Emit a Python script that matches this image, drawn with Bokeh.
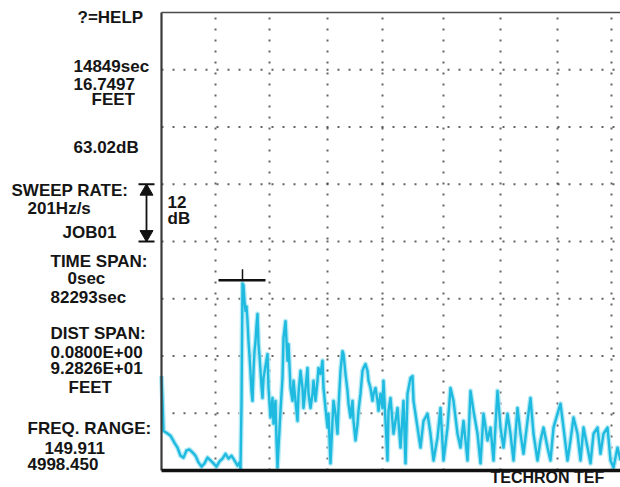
from bokeh.plotting import figure
from bokeh.models import Range1d
from bokeh.core.properties import value
from bokeh.embed import file_html
from bokeh.resources import INLINE

# ---- ETC trace (x: sample index, y: level in dB above the bottom line)
sample = [
    0, 1, 2, 5, 9, 13, 16, 19, 22, 25,
    28, 31, 34, 37, 40, 43, 46, 49, 52, 55,
    58, 61, 64, 67, 70, 73, 76, 78, 79, 80,
    81, 82, 83, 84, 85, 86, 87, 88, 89, 90,
    91, 92, 93, 94, 95, 96, 97, 98, 99, 100,
    101, 102, 104, 106, 107, 109, 111, 112, 114, 115,
    116, 117, 119, 121, 122, 124, 126, 127, 129, 131,
    132, 134, 136, 137, 139, 141, 142, 144, 146, 147,
    149, 151, 152, 154, 156, 157, 159, 161, 162, 164,
    166, 167, 169, 171, 172, 174, 176, 177, 179, 181,
    182, 184, 186, 187, 189, 191, 192, 194, 196, 197,
    199, 201, 202, 204, 206, 207, 209, 211, 212, 214,
    216, 217, 219, 221, 222, 224, 226, 227, 229, 232,
    236, 239, 242, 244, 246, 249, 251, 252, 256, 259,
    262, 266, 269, 272, 276, 279, 282, 286, 289, 292,
    296, 299, 302, 306, 309, 312, 316, 319, 322, 326,
    329, 332, 336, 339, 342, 346, 349, 352, 356, 359,
    362, 366, 369, 372, 376, 379, 382, 386, 389, 392,
    396, 399, 402, 406, 409, 412, 416, 419, 422, 426,
    429, 432, 436, 439, 442, 446, 449, 452, 456, 459,
]
level_db = [
    19.8, 14.6, 8.3, 7.9, 7.3, 5.8, 4.8, 3.1, 2.7, 4.2,
    4.4, 3.8, 3.1, 1.7, 0.8, 1.5, 2.7, 2.1, 1.5, 0.8,
    1.9, 2.5, 3.5, 2.5, 3.1, 2.1, 1.0, 1.7, 0.4, 14.0,
    39.2, 38.8, 35.5, 33.4, 34.4, 31.3, 27.1, 24.0, 20.5, 16.7,
    14.6, 20.9, 25.0, 27.1, 30.3, 32.8, 26.5, 24.0, 20.9, 17.7,
    15.2, 19.4, 21.9, 24.4, 17.3, 11.1, 15.2, 9.8, 14.6, 6.3,
    0.6, 4.8, 12.5, 19.4, 27.8, 31.3, 23.0, 26.5, 17.3, 14.6,
    18.8, 14.6, 10.4, 16.1, 20.9, 17.3, 13.1, 17.3, 21.5, 16.1,
    13.1, 16.1, 18.8, 14.6, 18.8, 21.5, 20.2, 23.0, 17.3, 13.1,
    9.0, 11.9, 1.5, 10.4, 14.6, 11.9, 7.7, 13.1, 20.9, 25.0,
    24.4, 20.2, 16.7, 14.0, 11.1, 14.6, 10.4, 6.3, 9.8, 12.5,
    16.1, 20.9, 21.5, 22.3, 20.9, 18.8, 17.3, 14.6, 16.1, 17.3,
    14.6, 12.5, 16.1, 13.1, 18.8, 10.4, 2.1, 12.5, 15.2, 7.7,
    13.1, 4.8, 14.6, 1.5, 16.1, 19.4, 19.8, 14.6, 9.0, 4.8,
    10.4, 11.9, 7.7, 2.1, 6.9, 13.1, 2.1, 9.0, 17.3, 14.6,
    7.7, 4.8, 10.4, 2.1, 16.7, 12.5, 7.7, 1.5, 11.9, 6.3,
    9.0, 2.1, 16.7, 9.0, 4.8, 11.9, 7.7, 2.1, 13.1, 7.7,
    3.5, 10.4, 15.2, 7.7, 2.1, 6.3, 9.0, 4.8, 2.1, 9.0,
    11.9, 14.0, 9.0, 2.1, 6.3, 11.1, 7.7, 2.1, 9.0, 4.8,
    1.5, 7.7, 9.0, 3.5, 7.7, 9.0, 2.1, 0.6, 4.8, 2.1,
]

# ---- grid (vertical divisions in samples, horizontal in dB, 12 dB per division)
grid_x = [54, 108, 166, 221, 282, 339, 396, 450]
grid_db = [12, 24, 36, 48, 60, 72, 84]
top_db = 96
scale_db = [48, 60]   # the "12 dB" scale marker

# ---- screen read-outs
left_texts = ["?=HELP", "14849sec", "16.7497", "FEET", "63.02dB",
              "SWEEP RATE:", "201Hz/s", "JOB01",
              "TIME SPAN:", "0sec", "82293sec",
              "DIST SPAN:", "0.0800E+00", "9.2826E+01", "FEET",
              "FREQ. RANGE:", "149.911", "4998.450"]
left_x = [-84, -88, -88, -70, -88,
          -150, -134, -99,
          -111, -94, -111,
          -111, -111, -111, -93,
          -134, -117, -134]
left_y = [94.9, 84.7, 81.1, 77.8, 67.7,
          58.7, 54.9, 49.9,
          43.8, 40.3, 36.3,
          28.7, 24.7, 21.4, 17.4,
          8.8, 4.8, 1.3]

x_start, x_end = -161, 459
p = figure(width=620, height=487, output_backend="svg", toolbar_location=None,
           x_range=Range1d(x_start, x_end), y_range=Range1d(-3.563, 98.515),
           min_border=0, x_axis_location=None, y_axis_location=None)
p.grid.visible = False
p.outline_line_color = None
p.background_fill_color = "white"
p.border_fill_color = "white"

# dotted graticule
p.segment(x0=grid_x, y0=[0] * len(grid_x), x1=grid_x, y1=[top_db] * len(grid_x),
          line_color="#3c3c3c", line_width=2, line_dash="2 9", line_alpha=0.8)
p.segment(x0=[0] * len(grid_db), y0=grid_db, x1=[x_end] * len(grid_db), y1=grid_db,
          line_color="#3c3c3c", line_width=2, line_dash="2 9", line_alpha=0.8)

# trace (light halo + bright cyan core)
p.line(sample, level_db, line_color="#a6e6f3", line_width=5, line_alpha=0.85, line_join="round")
p.line(sample, level_db, line_color="#1fbadf", line_width=2.4, line_join="round")

# frame
p.segment(x0=[0], y0=[0], x1=[0], y1=[top_db], line_color="#3a3a3a", line_width=2.2)
p.segment(x0=[0], y0=[top_db], x1=[x_end], y1=[top_db], line_color="#4a4a4a", line_width=1.5)
p.segment(x0=[0], y0=[0], x1=[x_end], y1=[0], line_color="#111111", line_width=3.5)

# peak cursor
i_peak = max(range(len(level_db)), key=lambda i: level_db[i])
px, py = sample[i_peak], level_db[i_peak]
p.segment(x0=[px - 24], y0=[py + 0.7], x1=[px + 23], y1=[py + 0.7], line_color="#111111", line_width=2.5)
p.segment(x0=[px], y0=[py + 0.7], x1=[px], y1=[py + 3.0], line_color="#111111", line_width=1.5)

# 12 dB scale marker
mx = -15
p.segment(x0=[mx], y0=[scale_db[0]], x1=[mx], y1=[scale_db[1]], line_color="#111111", line_width=1.8)
p.segment(x0=[mx - 8, mx - 8], y0=scale_db, x1=[mx + 8, mx + 8], y1=scale_db,
          line_color="#111111", line_width=2)
p.scatter(x=[mx], y=[scale_db[1] - 1.5], marker="triangle", size=13, color="#111111")
p.scatter(x=[mx], y=[scale_db[0] + 1.5], marker="inverted_triangle", size=13, color="#111111")
p.text(x=[6, 6], y=[56.2, 52.8], text=["12", "dB"], text_font=value("Liberation Sans"),
       text_font_style="bold", text_font_size="17px", text_baseline="middle",
       text_align="left", text_color="#151515")

# left read-outs
p.text(x=left_x, y=left_y, text=left_texts, text_font=value("Liberation Sans"),
       text_font_style="bold", text_font_size="17px", text_baseline="middle",
       text_align="left", text_color="#151515")

# maker label
p.text(x=[329], y=[-1.45], text=["TECHRON TEF"], text_font=value("Liberation Sans"),
       text_font_style="bold", text_font_size="16px", text_baseline="middle",
       text_align="left", text_color="#151515")

open("out.html", "w").write(file_html(p, INLINE))
